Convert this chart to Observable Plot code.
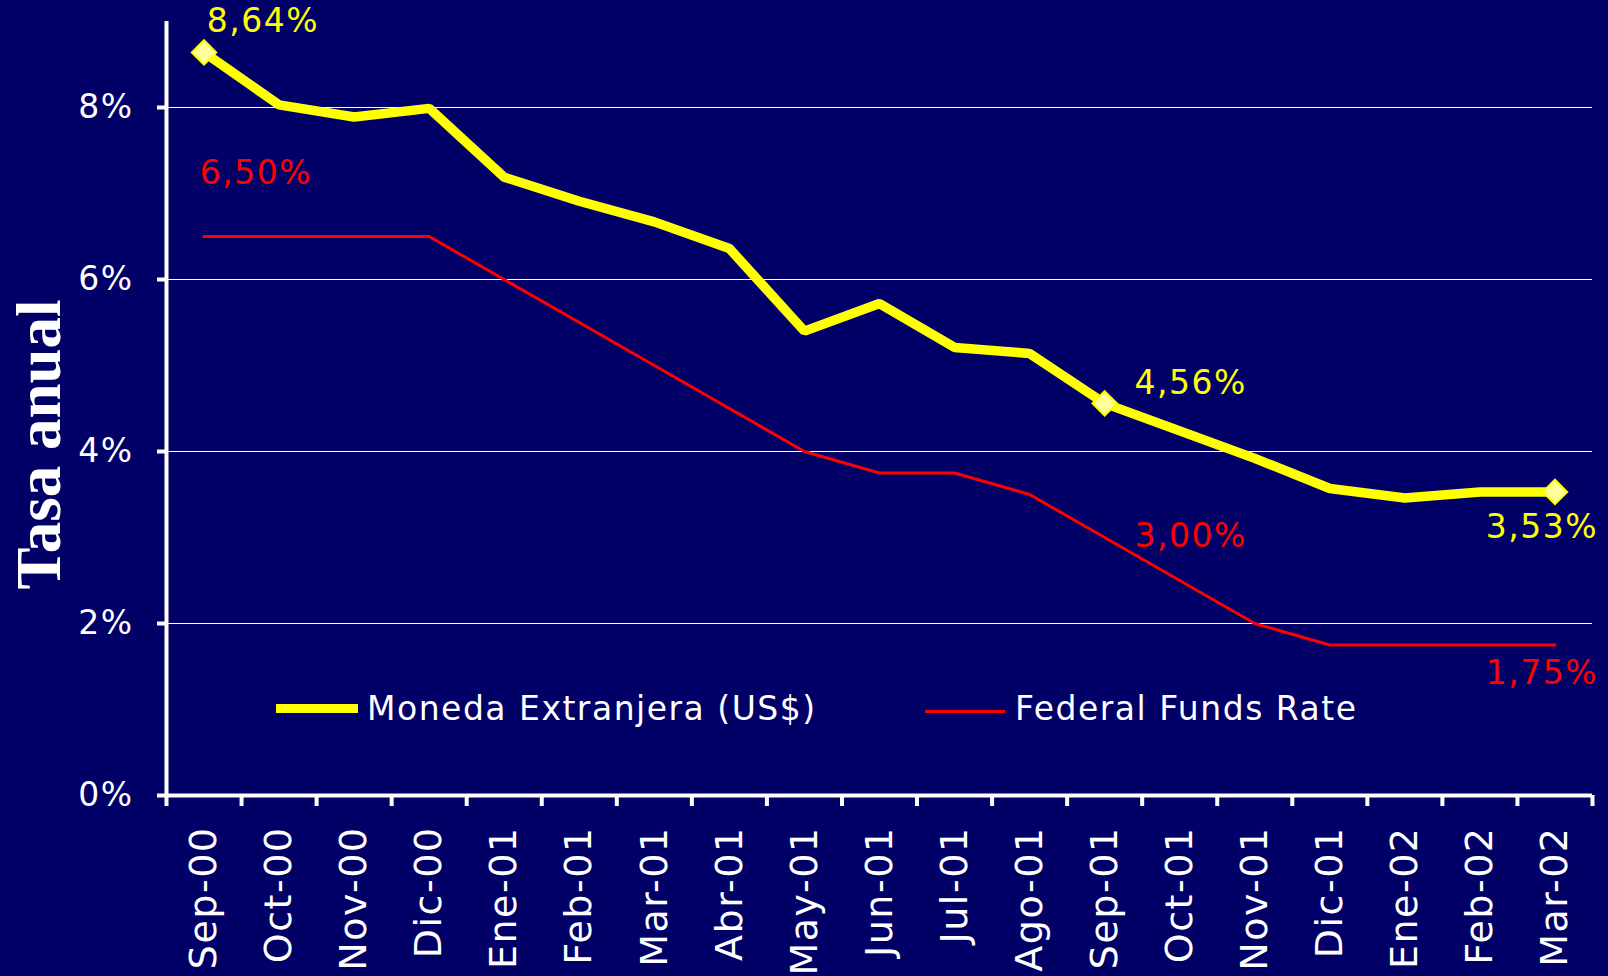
<!DOCTYPE html>
<html>
<head>
<meta charset="utf-8">
<script src="https://cdn.jsdelivr.net/npm/d3@7"></script>
<script src="https://cdn.jsdelivr.net/npm/@observablehq/plot@0.6"></script>
<style>
  html, body { margin: 0; padding: 0; background: #000066; }
  #chart { position: relative; width: 1608px; height: 976px; overflow: hidden; }
  #chart svg text { letter-spacing: 1.5px; }
  #chart svg g.title text { letter-spacing: 0; }
  .legend-item { position: absolute; display: flex; align-items: center; font-family: "DejaVu Sans", Verdana, sans-serif; font-size: 33px; line-height: 1; color: #fff; letter-spacing: 1.5px; white-space: nowrap; }
  .swatch { display: inline-block; }
</style>
</head>
<body>
<div id="chart"></div>
<script>
// ---- data ----
const months = ["Sep-00","Oct-00","Nov-00","Dic-00","Ene-01","Feb-01","Mar-01","Abr-01","May-01","Jun-01","Jul-01","Ago-01","Sep-01","Oct-01","Nov-01","Dic-01","Ene-02","Feb-02","Mar-02"];
const monedaExtranjera = [8.64, 8.03, 7.89, 7.99, 7.19, 6.91, 6.67, 6.36, 5.40, 5.72, 5.21, 5.14, 4.56, 4.24, 3.92, 3.57, 3.46, 3.53, 3.53];
const federalFunds = [6.50, 6.50, 6.50, 6.50, 6.00, 5.50, 5.00, 4.50, 4.00, 3.75, 3.75, 3.50, 3.00, 2.50, 2.00, 1.75, 1.75, 1.75, 1.75];
const yTicks = [0, 2, 4, 6, 8];
const seriesNames = ["Moneda Extranjera (US$)", "Federal Funds Rate"];
const seriesColors = ["#ffff00", "#ff0000"];
const labeledMonths = ["Sep-00", "Sep-01", "Mar-02"];
const yAxisTitle = "Tasa anual";

// ---- derived table ----
const rows = months.map((m, i) => ({i, month: m, me: monedaExtranjera[i], ff: federalFunds[i]}));
const labeledRows = rows.filter(r => labeledMonths.includes(r.month));
const fmt = v => d3.format(".2f")(v).replace(".", ",") + "%";

// label placement offsets (layout only)
const meOffsets = [[59, -31], [86, -20], [-13, 36]];
const ffOffsets = [[52, -63], [86, -1], [-13, 28]];

const labelMarks = [];
labeledRows.forEach((r, k) => {
  labelMarks.push(Plot.text([r], {x: "i", y: "me", text: d => fmt(d.me), fill: seriesColors[0], fontSize: 33, textAnchor: "middle", dx: meOffsets[k][0], dy: meOffsets[k][1]}));
  labelMarks.push(Plot.text([r], {x: "i", y: "ff", text: d => fmt(d.ff), fill: seriesColors[1], fontSize: 33, textAnchor: "middle", dx: ffOffsets[k][0], dy: ffOffsets[k][1]}));
});

const chart = Plot.plot({
  width: 1608,
  height: 976,
  marginLeft: 166,
  marginRight: 16,
  marginTop: 21,
  marginBottom: 181,
  style: {background: "#000066", color: "white", fontFamily: "'DejaVu Sans', Verdana, sans-serif", overflow: "visible"},
  x: {type: "linear", domain: [-0.5, months.length - 0.5], axis: null},
  y: {domain: [0, 9], axis: null},
  marks: [
    Plot.ruleY(yTicks.filter(d => d > 0), {stroke: "white", strokeWidth: 1}),
    Plot.axisY({ticks: yTicks, tickFormat: d => d + "%", tickSize: 9, tickPadding: 24, strokeWidth: 4, fontSize: 33, label: null}),
    Plot.axisX({ticks: d3.range(-0.5, months.length, 1), tickFormat: () => "", tickSize: 11, strokeWidth: 4, label: null}),
    Plot.axisX({ticks: d3.range(months.length), tickFormat: i => months[i], tickSize: 0, tickPadding: 31, tickRotate: -90, fontSize: 38, label: null}),
    Plot.ruleY([0], {stroke: "white", strokeWidth: 4}),
    Plot.ruleX([-0.5], {stroke: "white", strokeWidth: 4}),
    Plot.line(rows, {x: "i", y: "ff", stroke: seriesColors[1], strokeWidth: 3, strokeLinejoin: "miter"}),
    Plot.line(rows, {x: "i", y: "me", stroke: seriesColors[0], strokeWidth: 9.5, strokeLinejoin: "miter"}),
    Plot.dot(labeledRows, {x: "i", y: "me", symbol: "diamond2", r: 11, fill: "#ffff99", stroke: "#ffff00", strokeWidth: 2}),
    ...labelMarks,
    Plot.text([yAxisTitle], {text: d => d, frameAnchor: "left", textAnchor: "middle", rotate: -90, dx: -127, dy: 36, fontSize: 63, fontWeight: "bold", fontFamily: "'Liberation Serif', 'Times New Roman', serif", fill: "white", className: "title"})
  ]
});

const container = document.getElementById("chart");
container.appendChild(chart);

// legend (inside plot area, as in the original)
const legendLayout = [
  {left: 276, top: 692, w: 82, h: 9, gap: 9, shift: 0},
  {left: 925, top: 692, w: 80, h: 3, gap: 10, shift: 3}
];
seriesNames.forEach((name, k) => {
  const L = legendLayout[k];
  const item = document.createElement("div");
  item.className = "legend-item";
  item.style.left = L.left + "px";
  item.style.top = L.top + "px";
  const sw = document.createElement("span");
  sw.className = "swatch";
  sw.style.width = L.w + "px";
  sw.style.height = L.h + "px";
  sw.style.background = seriesColors[k];
  sw.style.marginRight = L.gap + "px";
  sw.style.position = "relative";
  sw.style.top = L.shift + "px";
  const tx = document.createElement("span");
  tx.textContent = name;
  item.appendChild(sw);
  item.appendChild(tx);
  container.appendChild(item);
});
</script>
</body>
</html>
